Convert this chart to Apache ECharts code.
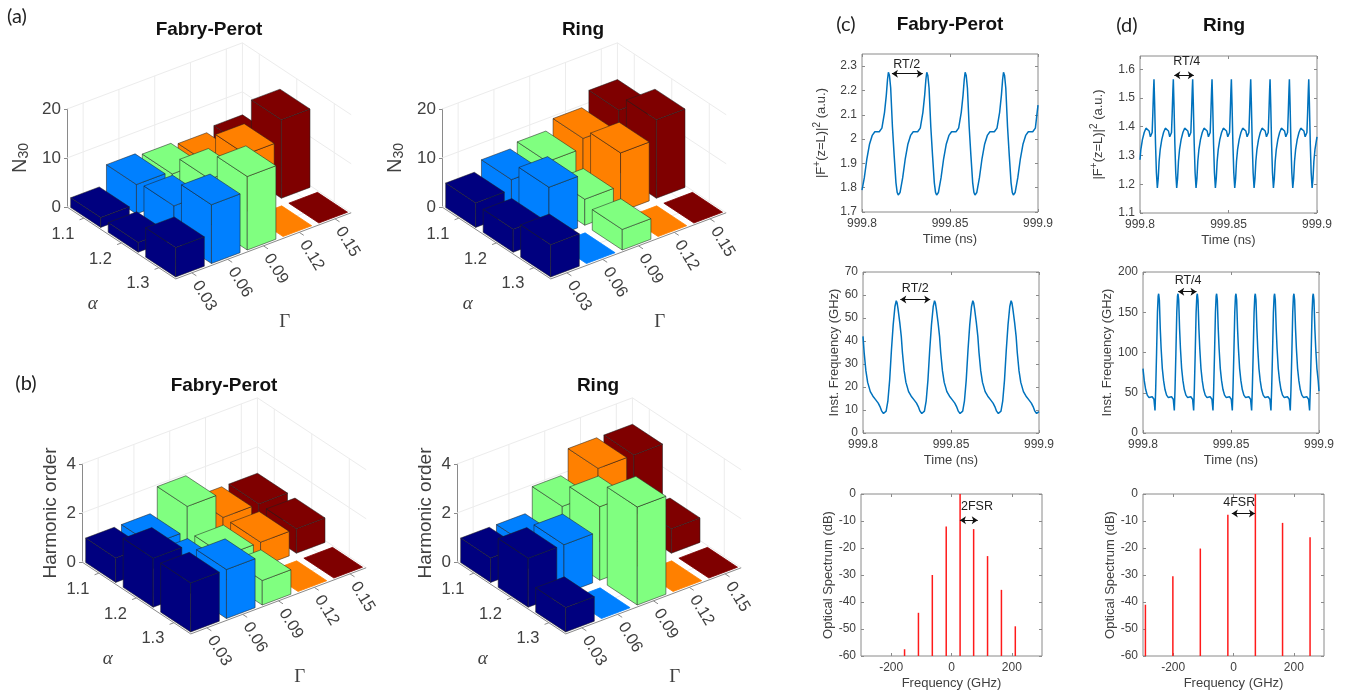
<!DOCTYPE html>
<html><head><meta charset="utf-8">
<style>html,body{margin:0;padding:0;background:#fff}#c{width:1346px;height:694px}</style>
<script src="https://cdn.jsdelivr.net/npm/echarts@6/dist/echarts.min.js"></script>
</head><body><div id="c"></div>
<script>
// ---------- 3D bar data: rows are alpha, columns are Gamma ----------
const alphaLabels = ['1.1', '1.2', '1.3'];
const gammaLabels = ['0.03', '0.06', '0.09', '0.12', '0.15'];
const gammaColors = ['#00007f', '#0080ff', '#80ff80', '#ff8000', '#7f0000'];
const n30Fabry = [[2, 6, 5.4, 4.8, 5.7], [2, 6.7, 9.4, 11.7, 16], [6, 12, 15, 0, 0]];
const n30Ring = [[5, 7, 7.9, 9.9, 12.9], [4.7, 10.5, 5.3, 12, 16], [6.6, 0, 4.2, 0, 0]];
const orderFabry = [[1, 1, 2, 1, 1], [2, 1, 1, 1, 1], [2, 2, 1, 0, 0]];
const orderRing = [[1, 1, 2, 3, 3], [2, 2, 3, 1, 1], [1, 0, 4, 0, 0]];

// ---------- time traces: t is picoseconds after 999.8 ns ----------
const timeLabels = {0: '999.8', 50: '999.85', 100: '999.9'};
const tFabryField = [
0,1.3,2.8,4.3,5.8,7.3,9.8,11.3,12.8,13.8,14.5,15,15.6,16.3,17.3,18.3,19.3,20,
20.6,21.6,23.1,24.6,26.1,27.6,29.1,31.6,33.1,34.6,35.6,36.3,36.8,37.4,38.1,39.1,40.1,41.1,41.8,
42.4,43.4,44.9,46.4,47.9,49.4,50.9,53.4,54.9,56.4,57.4,58.1,58.6,59.2,59.9,60.9,61.9,62.9,63.6,
64.2,65.2,66.7,68.2,69.7,71.2,72.7,75.2,76.7,78.2,79.2,79.9,80.4,81,81.7,82.7,83.7,84.7,85.4,
86,87,88.5,90,91.5,93,94.5,97,98.5,100];
const vFabryField = [
1.79,1.84,1.92,1.98,2.015,2.03,2.03,2.045,2.11,2.18,2.245,2.275,2.262,2.21,2.05,1.93,1.82,1.78,
1.77,1.78,1.84,1.92,1.98,2.015,2.03,2.03,2.045,2.11,2.18,2.245,2.275,2.262,2.21,2.05,1.93,1.82,1.78,
1.77,1.78,1.84,1.92,1.98,2.015,2.03,2.03,2.045,2.11,2.18,2.245,2.275,2.262,2.21,2.05,1.93,1.82,1.78,
1.77,1.78,1.84,1.92,1.98,2.015,2.03,2.03,2.045,2.11,2.18,2.245,2.275,2.262,2.21,2.05,1.93,1.82,1.78,
1.77,1.78,1.84,1.92,1.98,2.015,2.03,2.03,2.045,2.14];
const tRingField = [
0,.47,1.37,2.37,3.37,4.37,5.17,5.87,6.37,6.87,7.27,7.67,7.9,8.27,8.77,9.27,9.8,
10.3,10.8,11.4,12.3,13.3,14.3,15.3,16.1,16.8,17.3,17.8,18.2,18.6,18.83,19.2,19.7,20.2,20.73,
21.23,21.73,22.33,23.23,24.23,25.23,26.23,27.03,27.73,28.23,28.73,29.13,29.53,29.76,30.13,30.63,31.13,31.66,
32.16,32.66,33.26,34.16,35.16,36.16,37.16,37.96,38.66,39.16,39.66,40.06,40.46,40.69,41.06,41.56,42.06,42.59,
43.09,43.59,44.19,45.09,46.09,47.09,48.09,48.89,49.59,50.09,50.59,50.99,51.39,51.62,51.99,52.49,52.99,53.52,
54.02,54.52,55.12,56.02,57.02,58.02,59.02,59.82,60.52,61.02,61.52,61.92,62.32,62.55,62.92,63.42,63.92,64.45,
64.95,65.45,66.05,66.95,67.95,68.95,69.95,70.75,71.45,71.95,72.45,72.85,73.25,73.48,73.85,74.35,74.85,75.38,
75.88,76.38,76.98,77.88,78.88,79.88,80.88,81.68,82.38,82.88,83.38,83.78,84.18,84.41,84.78,85.28,85.78,86.31,
86.81,87.31,87.91,88.81,89.81,90.81,91.81,92.61,93.31,93.81,94.31,94.71,95.11,95.34,95.71,96.21,96.71,97.24,
97.74,98.24,98.84,99.74,100];
const vRingField = [
1.285,1.32,1.355,1.38,1.395,1.398,1.385,1.365,1.362,1.38,1.45,1.53,1.565,1.48,1.34,1.24,1.187,
1.22,1.28,1.32,1.355,1.38,1.395,1.398,1.385,1.365,1.362,1.38,1.45,1.53,1.565,1.48,1.34,1.24,1.187,
1.22,1.28,1.32,1.355,1.38,1.395,1.398,1.385,1.365,1.362,1.38,1.45,1.53,1.565,1.48,1.34,1.24,1.187,
1.22,1.28,1.32,1.355,1.38,1.395,1.398,1.385,1.365,1.362,1.38,1.45,1.53,1.565,1.48,1.34,1.24,1.187,
1.22,1.28,1.32,1.355,1.38,1.395,1.398,1.385,1.365,1.362,1.38,1.45,1.53,1.565,1.48,1.34,1.24,1.187,
1.22,1.28,1.32,1.355,1.38,1.395,1.398,1.385,1.365,1.362,1.38,1.45,1.53,1.565,1.48,1.34,1.24,1.187,
1.22,1.28,1.32,1.355,1.38,1.395,1.398,1.385,1.365,1.362,1.38,1.45,1.53,1.565,1.48,1.34,1.24,1.187,
1.22,1.28,1.32,1.355,1.38,1.395,1.398,1.385,1.365,1.362,1.38,1.45,1.53,1.565,1.48,1.34,1.24,1.187,
1.22,1.28,1.32,1.355,1.38,1.395,1.398,1.385,1.365,1.362,1.38,1.45,1.53,1.565,1.48,1.34,1.24,1.187,
1.22,1.28,1.32,1.355,1.365];
const tFabryFreq = [
0,.65,1.65,2.65,4.15,5.65,7.15,8.65,9.65,10.65,11.65,12.15,13.15,14.15,15.15,16.15,17.15,18.15,18.9,
19.4,19.9,20.9,21.75,22.4,23.4,24.4,25.9,27.4,28.9,30.4,31.4,32.4,33.4,33.9,34.9,35.9,36.9,37.9,38.9,39.9,40.65,
41.15,41.65,42.65,43.5,44.15,45.15,46.15,47.65,49.15,50.65,52.15,53.15,54.15,55.15,55.65,56.65,57.65,58.65,59.65,60.65,61.65,62.4,
62.9,63.4,64.4,65.25,65.9,66.9,67.9,69.4,70.9,72.4,73.9,74.9,75.9,76.9,77.4,78.4,79.4,80.4,81.4,82.4,83.4,84.15,
84.65,85.15,86.15,87,87.65,88.65,89.65,91.15,92.65,94.15,95.65,96.65,97.65,98.65,99.15,100];
const vFabryFreq = [
42,35,27,22,18,16,14.5,13,11.5,9.5,8.5,8.3,9.5,14,23,36,47,55,57.5,
56.5,54,48,42,35,27,22,18,16,14.5,13,11.5,9.5,8.5,8.3,9.5,14,23,36,47,55,57.5,
56.5,54,48,42,35,27,22,18,16,14.5,13,11.5,9.5,8.5,8.3,9.5,14,23,36,47,55,57.5,
56.5,54,48,42,35,27,22,18,16,14.5,13,11.5,9.5,8.5,8.3,9.5,14,23,36,47,55,57.5,
56.5,54,48,42,35,27,22,18,16,14.5,13,11.5,9.5,8.5,8.3,9.3];
const tRingFreq = [
0,.72,1.52,2.42,3.42,4.42,5.22,5.82,6.22,6.52,6.82,7.22,7.72,8.22,8.62,8.9,
9.3,9.8,10.3,10.98,11.7,12.5,13.4,14.4,15.4,16.2,16.8,17.2,17.5,17.8,18.2,18.7,19.2,19.6,19.88,
20.28,20.78,21.28,21.96,22.68,23.48,24.38,25.38,26.38,27.18,27.78,28.18,28.48,28.78,29.18,29.68,30.18,30.58,30.86,
31.26,31.76,32.26,32.94,33.66,34.46,35.36,36.36,37.36,38.16,38.76,39.16,39.46,39.76,40.16,40.66,41.16,41.56,41.84,
42.24,42.74,43.24,43.92,44.64,45.44,46.34,47.34,48.34,49.14,49.74,50.14,50.44,50.74,51.14,51.64,52.14,52.54,52.82,
53.22,53.72,54.22,54.9,55.62,56.42,57.32,58.32,59.32,60.12,60.72,61.12,61.42,61.72,62.12,62.62,63.12,63.52,63.8,
64.2,64.7,65.2,65.88,66.6,67.4,68.3,69.3,70.3,71.1,71.7,72.1,72.4,72.7,73.1,73.6,74.1,74.5,74.78,
75.18,75.68,76.18,76.86,77.58,78.38,79.28,80.28,81.28,82.08,82.68,83.08,83.38,83.68,84.08,84.58,85.08,85.48,85.76,
86.16,86.66,87.16,87.84,88.56,89.36,90.26,91.26,92.26,93.06,93.66,94.06,94.36,94.66,95.06,95.56,96.06,96.46,96.74,
97.14,97.64,98.14,98.82,99.54,100];
const vRingFreq = [
80,65,54,47,44,43.5,45,46,42,35,28,55,100,150,170,173,
165,130,105,80,65,54,47,44,43.5,45,46,42,35,28,55,100,150,170,173,
165,130,105,80,65,54,47,44,43.5,45,46,42,35,28,55,100,150,170,173,
165,130,105,80,65,54,47,44,43.5,45,46,42,35,28,55,100,150,170,173,
165,130,105,80,65,54,47,44,43.5,45,46,42,35,28,55,100,150,170,173,
165,130,105,80,65,54,47,44,43.5,45,46,42,35,28,55,100,150,170,173,
165,130,105,80,65,54,47,44,43.5,45,46,42,35,28,55,100,150,170,173,
165,130,105,80,65,54,47,44,43.5,45,46,42,35,28,55,100,150,170,173,
165,130,105,80,65,54,47,44,43.5,45,46,42,35,28,55,100,150,170,173,
165,130,105,80,65,52];

// ---------- optical spectra ----------
const fFabry = [-155.6, -109.6, -63.6, -17.5, 28.5, 73.4, 119.5, 165.5, 211.5];
const dbFabry = [-57.5, -44, -30, -12, 0, -13, -23, -35.5, -49];
const fRing = [-292, -201, -110, -18.7, 72.5, 162.6, 253.8];
const dbRing = [-41, -30.5, -20.2, -7.7, 0, -10.7, -16];

// ---------- style ----------
const SANS = '"Liberation Sans", Arial, sans-serif';
const SERIF = '"Liberation Serif", serif';
const INK = '#404040', AXIS = '#8a8a8a', WALL = '#ececec';
const grid = [], xAxis = [], yAxis = [], series = [], title = [];

function addTitle(text, x, y, size, weight, family, color) {
  title.push({text, left: x, top: y, padding: 0, textAlign: 'center', textVerticalAlign: 'middle',
    textStyle: {fontFamily: family || SANS, fontSize: size, fontWeight: weight || 'normal', color: color || '#111'}});
}

// ---------- oblique 3D panel ----------
const A_VEC = [37.5, 24.8], G_VEC = [35.8, -13.5];  // screen px per alpha row / Gamma column
const A0 = 0.55, A1 = 3.45, G0 = 0.55, G1 = 5.45, HALF = 0.4, WALL_PX = 98, PANEL_W = 290;

function addPanel3D(p) {
  const gi = grid.length;
  grid.push({left: p.x, top: p.y0 - WALL_PX, width: PANEL_W, height: WALL_PX, show: false});
  xAxis.push({gridIndex: gi, type: 'value', min: 0, max: PANEL_W, show: false});
  yAxis.push({gridIndex: gi, type: 'value', min: 0, max: p.zMax, interval: p.zStep,
    name: p.zName, nameLocation: 'middle', nameGap: p.nameGap, nameRotate: 90,
    nameTextStyle: {fontFamily: SANS, fontSize: p.nameSize, color: INK, rich: {sub: {fontFamily: SANS, fontSize: 14, color: INK, verticalAlign: 'bottom', padding: [8, 0, 0, 0]}}},
    axisLine: {show: true, onZero: false, lineStyle: {color: AXIS}},
    axisTick: {show: true, length: 3, lineStyle: {color: AXIS}},
    axisLabel: {fontFamily: SANS, fontSize: 17, color: INK, margin: 6},
    splitLine: {show: false}});
  const proj = (api, a, g, z) => {
    const sx = (a - A0) * A_VEC[0] + (g - G0) * G_VEC[0];
    const sy = (a - A0) * A_VEC[1] + (g - G0) * G_VEC[1];
    return api.coord([sx, z - sy * p.zMax / WALL_PX]);
  };
  const line = (u, v, stroke, w) => ({type: 'line', shape: {x1: u[0], y1: u[1], x2: v[0], y2: v[1]}, style: {stroke, lineWidth: w || 1}});
  const base = {type: 'custom', coordinateSystem: 'cartesian2d', xAxisIndex: gi, yAxisIndex: gi, silent: true};
  const levels = [];
  for (let z = 0; z <= p.zMax; z += p.zStep) levels.push(z);

  series.push(Object.assign({}, base, {name: p.name + ' walls', data: [[0, 0]], renderItem: (params, api) => {
    const kids = [];
    levels.forEach(z => {
      kids.push(line(proj(api, A0, G0, z), proj(api, A0, G1, z), WALL));
      kids.push(line(proj(api, A0, G1, z), proj(api, A1, G1, z), WALL));
    });
    gammaLabels.forEach((_, j) => {
      kids.push(line(proj(api, A0, j + 1, 0), proj(api, A0, j + 1, p.zMax), WALL));
      kids.push(line(proj(api, A0, j + 1, 0), proj(api, A1, j + 1, 0), WALL));
    });
    alphaLabels.forEach((_, i) => {
      kids.push(line(proj(api, i + 1, G1, 0), proj(api, i + 1, G1, p.zMax), WALL));
      kids.push(line(proj(api, i + 1, G0, 0), proj(api, i + 1, G1, 0), WALL));
    });
    kids.push(line(proj(api, A0, G1, 0), proj(api, A0, G1, p.zMax), WALL));
    kids.push(line(proj(api, A0, G0, 0), proj(api, A1, G0, 0), AXIS));
    kids.push(line(proj(api, A1, G0, 0), proj(api, A1, G1, 0), AXIS));
    alphaLabels.forEach((_, i) => kids.push(line(proj(api, i + 1, G0, 0), proj(api, i + 1, G0 - 0.12, 0), AXIS)));
    gammaLabels.forEach((_, j) => kids.push(line(proj(api, A1, j + 1, 0), proj(api, A1 + 0.12, j + 1, 0), AXIS)));
    return {type: 'group', children: kids};
  }}));

  const bars = [];
  for (let j = gammaLabels.length; j >= 1; j--)
    for (let i = 1; i <= alphaLabels.length; i++) bars.push([i, j, p.values[i - 1][j - 1]]);
  series.push(Object.assign({}, base, {name: p.name, encode: {x: 0, y: 1}, data: bars, renderItem: (params, api) => {
    const a = api.value(0), g = api.value(1), z = api.value(2);
    const fill = gammaColors[g - 1];
    const poly = pts => ({type: 'polygon', shape: {points: pts}, style: {fill, stroke: 'rgba(30,30,30,0.65)', lineWidth: 0.8}});
    const kids = [];
    const a0 = a - HALF, a1 = a + HALF, g0 = g - HALF, g1 = g + HALF;
    if (z > 0) {
      kids.push(poly([proj(api, a0, g0, z), proj(api, a1, g0, z), proj(api, a1, g0, 0), proj(api, a0, g0, 0)]));
      kids.push(poly([proj(api, a1, g0, z), proj(api, a1, g1, z), proj(api, a1, g1, 0), proj(api, a1, g0, 0)]));
    }
    const top = poly([proj(api, a0, g0, z), proj(api, a0, g1, z), proj(api, a1, g1, z), proj(api, a1, g0, z)]);
    if (z === 0) top.style.stroke = fill;
    kids.push(top);
    return {type: 'group', children: kids};
  }}));

  series.push(Object.assign({}, base, {name: p.name + ' floor labels', data: [[0, 0]], renderItem: (params, api) => {
    const kids = [];
    const txt = (s, pt, dx, dy, size, family, rot, italic) => ({type: 'text', x: pt[0] + dx, y: pt[1] + dy, rotation: rot || 0,
      style: {text: s, fontFamily: family, fontSize: size, fontStyle: italic ? 'italic' : 'normal', fill: INK, align: 'center', verticalAlign: 'middle'}});
    alphaLabels.forEach((s, i) => kids.push(txt(s, proj(api, i + 1, G0, 0), -21, 16, 16.5, SANS)));
    gammaLabels.forEach((s, j) => kids.push(txt(s, proj(api, A1, j + 1, 0), 12.5, 23, 16.5, SANS, -1.03)));
    const corner = proj(api, A1, G0, 0);
    kids.push(txt('\u03b1', corner, -83, 25, 19, SERIF, 0, true));
    kids.push(txt('\u0393', corner, 109, 43, 19, SERIF));
    return {type: 'group', children: kids};
  }}));
}

addPanel3D({name: 'N30 Fabry-Perot', x: 67, y0: 207, zMax: 20, zStep: 10, zName: 'N{sub|30}', nameGap: 36, nameSize: 20, values: n30Fabry});
addPanel3D({name: 'N30 Ring', x: 442, y0: 207, zMax: 20, zStep: 10, zName: 'N{sub|30}', nameGap: 36, nameSize: 20, values: n30Ring});
addPanel3D({name: 'Harmonic order Fabry-Perot', x: 82, y0: 562, zMax: 4, zStep: 2, zName: 'Harmonic order', nameGap: 22, nameSize: 19, values: orderFabry});
addPanel3D({name: 'Harmonic order Ring', x: 457, y0: 562, zMax: 4, zStep: 2, zName: 'Harmonic order', nameGap: 22, nameSize: 19, values: orderRing});

// ---------- 2D plots ----------
function addPlot(p) {
  const gi = grid.length;
  grid.push({left: p.box[0], top: p.box[1], width: p.box[2] - p.box[0], height: p.box[3] - p.box[1],
    show: true, borderColor: AXIS, borderWidth: 1, backgroundColor: 'transparent'});
  const tick = list => ({show: true, inside: true, length: 3, customValues: list, lineStyle: {color: AXIS}});
  const common = {gridIndex: gi, type: 'value', axisLine: {show: false, onZero: false}, splitLine: {show: false}};
  xAxis.push(Object.assign({}, common, {min: p.xr[0], max: p.xr[1], position: 'bottom',
    name: p.xName, nameLocation: 'middle', nameGap: 21, nameTextStyle: {fontFamily: SANS, fontSize: 13, color: INK},
    axisTick: tick(p.xTicks),
    axisLabel: {customValues: p.xTicks, fontFamily: SANS, fontSize: 12, color: INK, margin: 6, formatter: p.xFmt || (v => String(v))}}));
  const xi = xAxis.length - 1;
  xAxis.push(Object.assign({}, common, {min: p.xr[0], max: p.xr[1], position: 'top', axisTick: tick(p.xTicks), axisLabel: {show: false}}));
  yAxis.push(Object.assign({}, common, {min: p.yr[0], max: p.yr[1], position: 'left',
    name: p.yName, nameLocation: 'middle', nameGap: p.yGap, nameRotate: 90,
    nameTextStyle: {fontFamily: SANS, fontSize: 13, color: INK, rich: {sup: {fontFamily: SANS, fontSize: 10, color: INK, verticalAlign: 'top', padding: [0, 0, 8, 0]}}},
    axisTick: tick(p.yTicks),
    axisLabel: {customValues: p.yTicks, fontFamily: SANS, fontSize: 12, color: INK, margin: 5}}));
  const yi = yAxis.length - 1;
  yAxis.push(Object.assign({}, common, {min: p.yr[0], max: p.yr[1], position: 'right', axisTick: tick(p.yTicks), axisLabel: {show: false}}));
  const arrow = {type: 'line', name: p.note + ' arrow', xAxisIndex: xi, yAxisIndex: yi, data: [], silent: true,
    markLine: {silent: true, animation: false, symbol: ['arrow', 'arrow'], symbolSize: 6,
      lineStyle: {color: '#111', type: 'solid', width: 1},
      label: {show: false},
      emphasis: {disabled: true},
      data: [[{coord: [p.arrow[0], p.arrow[2]]}, {coord: [p.arrow[1], p.arrow[2]]}]]}};
  const noteText = {type: 'custom', name: p.note + ' label', coordinateSystem: 'cartesian2d', xAxisIndex: xi, yAxisIndex: yi, silent: true,
    encode: {x: 0, y: 1}, data: [p.notePos], renderItem: (params, api) => {
      const c = api.coord([api.value(0), api.value(1)]);
      return {type: 'text', x: c[0], y: c[1], style: {text: p.note, fontFamily: SANS, fontSize: 12.5, fill: '#222', align: 'center', verticalAlign: 'middle'}};
    }};
  if (p.t) {
    series.push({type: 'line', name: p.yName, xAxisIndex: xi, yAxisIndex: yi, showSymbol: false, silent: true, animation: false,
      lineStyle: {color: '#0072BD', width: 1.5}, data: p.t.map((t, i) => [t, p.v[i]])});
  } else {
    series.push({type: 'custom', name: p.yName, coordinateSystem: 'cartesian2d', xAxisIndex: xi, yAxisIndex: yi, silent: true,
      encode: {x: 0, y: 1}, data: p.f.map((f, i) => [f, p.db[i]]),
      renderItem: (params, api) => {
        const a = api.coord([api.value(0), api.value(1)]), b = api.coord([api.value(0), p.yr[0]]);
        return {type: 'line', shape: {x1: a[0], y1: a[1], x2: b[0], y2: b[1]}, style: {stroke: '#ff1a1a', lineWidth: 1.5}};
      }});
  }
  series.push(arrow, noteText);
}

const timeCfg = {xr: [0, 100], xTicks: [0, 50, 100], xFmt: v => timeLabels[v], xName: 'Time (ns)'};
const fieldName = '|F{sup|+}(z=L)|{sup|2} (a.u.)';
addPlot(Object.assign({}, timeCfg, {box: [862, 54, 1038, 212], yr: [1.7, 2.35], yTicks: [1.7, 1.8, 1.9, 2, 2.1, 2.2, 2.3],
  yName: fieldName, yGap: 32, t: tFabryField, v: vFabryField, note: 'RT/2', arrow: [17, 34.5, 2.269], notePos: [25.4, 2.305]}));
addPlot(Object.assign({}, timeCfg, {box: [1140, 56, 1317, 213], yr: [1.1, 1.646], yTicks: [1.1, 1.2, 1.3, 1.4, 1.5, 1.6],
  yName: fieldName, yGap: 33, t: tRingField, v: vRingField, note: 'RT/4', arrow: [19.4, 30.4, 1.579], notePos: [26.4, 1.6276]}));
addPlot(Object.assign({}, timeCfg, {box: [863, 272, 1039, 433], yr: [0, 70], yTicks: [0, 10, 20, 30, 40, 50, 60, 70],
  yName: 'Inst. Frequency (GHz)', yGap: 19, t: tFabryFreq, v: vFabryFreq, note: 'RT/2', arrow: [21.2, 38.2, 58], notePos: [29.7, 62.6]}));
addPlot(Object.assign({}, timeCfg, {box: [1143, 272, 1319, 433], yr: [0, 200], yTicks: [0, 50, 100, 150, 200],
  yName: 'Inst. Frequency (GHz)', yGap: 26, t: tRingFreq, v: vRingFreq, note: 'RT/4', arrow: [20, 30.4, 175.6], notePos: [25.6, 190]}));
const specCfg = {xr: [-300, 300], xTicks: [-200, 0, 200], xName: 'Frequency (GHz)', yr: [-60, 0],
  yTicks: [-60, -50, -40, -30, -20, -10, 0], yName: 'Optical Spectrum (dB)', yGap: 23};
addPlot(Object.assign({}, specCfg, {box: [861, 494, 1042, 656], f: fFabry, db: dbFabry, note: '2FSR', arrow: [28, 87, -9.76], notePos: [84.5, -4.7]}));
addPlot(Object.assign({}, specCfg, {box: [1143, 494, 1324, 656], f: fRing, db: dbRing, note: '4FSR', arrow: [-5.5, 71, -7.2], notePos: [19, -3.2]}));

// ---------- titles ----------
[['Fabry-Perot', 209, 29.5], ['Ring', 583, 29.5], ['Fabry-Perot', 224, 385.7], ['Ring', 598, 385.7], ['Fabry-Perot', 950, 25], ['Ring', 1224, 26]]
  .forEach(t => addTitle(t[0], t[1], t[2], 19, 'bold'));
[['(a)', 17, 17], ['(b)', 26, 384], ['(c)', 846, 25], ['(d)', 1127, 26]]
  .forEach(t => addTitle(t[0], t[1], t[2], 20, 'normal', 'Lato, sans-serif', '#222'));

const chart = echarts.init(document.getElementById('c'), null, {renderer: 'canvas'});
chart.setOption({backgroundColor: '#fff', animation: false, title, grid, xAxis, yAxis, series});
</script>
</body></html>
